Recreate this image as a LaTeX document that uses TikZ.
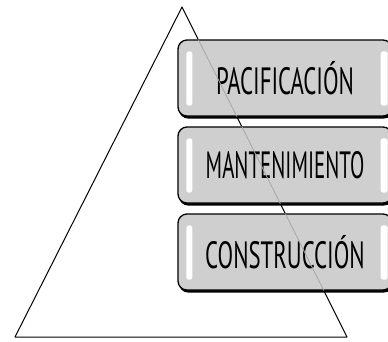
\documentclass[tikz,border=0pt]{standalone}
\usepackage{graphicx}
\usepackage{fontspec}
\setmainfont{PT Sans}
\usetikzlibrary{shadows}
\begin{document}
\begin{tikzpicture}[line cap=round,line join=round,x=1pt,y=-1pt,
  nivel/.style={draw=black,line width=1.3pt,fill=black!19,rounded corners=9pt,
    minimum width=214pt,minimum height=76pt,inner sep=0pt,
    font=\fontsize{38}{40}\selectfont,
    drop shadow={opacity=1,fill=black,shadow xshift=1pt,shadow yshift=-2.5pt}},
  brillo/.style={fill=white,rounded corners=2.5pt}]
\useasboundingbox (0,0) rectangle (388,341);
\clip (0,0) rectangle (388,341);
\coordinate (cima) at (182,7);
\coordinate (izq) at (15,337);
\coordinate (der) at (347,337);
\draw[line width=1pt] (cima) -- (izq) -- (der) -- cycle;
\node[nivel] (pac) at (285,78) {\scalebox{.6}[1]{PACIFICACIÓN}};
\node[nivel] (man) at (285,165) {\scalebox{.55}[1]{MANTENIMIENTO}};
\node[nivel] (con) at (285,252) {\scalebox{.6}[1]{CONSTRUCCIÓN}};
\foreach \n in {pac,man,con} {
  \fill[brillo] ([xshift=9pt,yshift=-12pt]\n.north west) rectangle ([xshift=15pt,yshift=11pt]\n.south west);
  \fill[brillo] ([xshift=-12pt,yshift=-12pt]\n.north east) rectangle ([xshift=-5pt,yshift=11pt]\n.south east);
}
% lado derecho visto a traves de las cajas
\begin{scope}
\clip (pac.north west) rectangle (pac.south east) (man.north west) rectangle (man.south east) (con.north west) rectangle (con.south east);
\draw[black!35,line width=.8pt] (cima) -- (der);
\end{scope}
\end{tikzpicture}
\end{document}
